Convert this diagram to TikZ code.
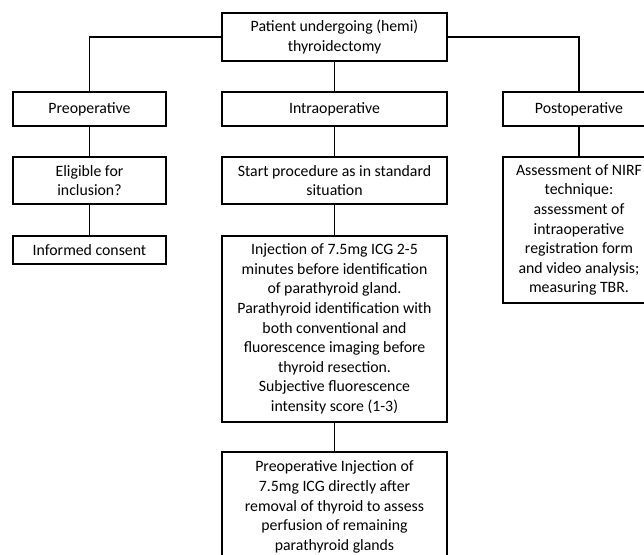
\documentclass[tikz,border=0pt]{standalone}
\usepackage{fontspec}
\setmainfont{Carlito}
\begin{document}
\begin{tikzpicture}[x=1pt,y=1pt,
  box/.style={draw=black, line width=1.3pt, inner sep=0pt, align=center,
    font=\fontsize{15.8}{19.6}\selectfont},
  conn/.style={draw=black, line width=1.1pt}]
\useasboundingbox (0,0) rectangle (644,-554);
\fill[white] (0,0) rectangle (644,-554);
\begin{scope}
\clip (0,0) rectangle (644,-554);
\node[box, minimum width=225, minimum height=48] (top) at (334.5,-37) {Patient undergoing (hemi)\\thyroidectomy};
\node[box, minimum width=153, minimum height=34] (pre) at (89.5,-109) {Preoperative};
\node[box, minimum width=225, minimum height=34] (intra) at (334.5,-109) {Intraoperative};
\node[box, minimum width=152, minimum height=34] (post) at (579,-109) {Postoperative};
\node[box, minimum width=153, minimum height=47] (elig) at (89.5,-180.5) {Eligible for\\inclusion?};
\node[box, minimum width=153, minimum height=28] (cons) at (89.5,-250) {Informed consent};
\node[box, minimum width=225, minimum height=47] (start) at (334.5,-180.5) {Start procedure as in standard\\situation};
\node[box, minimum width=225, minimum height=186] (inj) at (334.5,-329) {Injection of 7.5mg ICG 2-5\\minutes before identification\\of parathyroid gland.\\Parathyroid identification with\\both conventional and\\fluorescence imaging before\\thyroid resection.\\Subjective fluorescence\\intensity score (1-3)};
\node[box, minimum width=225, minimum height=110] (bot) at (334.5,-507) {Preoperative Injection of\\7.5mg ICG directly after\\removal of thyroid to assess\\perfusion of remaining\\parathyroid glands};
\node[box, minimum width=152, minimum height=146] (nirf) at (579,-230) {Assessment of NIRF\\technique:\\assessment of\\intraoperative\\registration form\\and video analysis;\\measuring TBR.};
\draw[conn] (top.west) -| (pre.north);
\draw[conn] (top.east) -| (post.north);
\draw[conn] (top.south) -- (intra.north);
\draw[conn] (pre.south) -- (elig.north);
\draw[conn] (elig.south) -- (cons.north);
\draw[conn] (intra.south) -- (start.north);
\draw[conn] (start.south) -- (inj.north);
\draw[conn] (inj.south) -- (bot.north);
\draw[conn] (post.south) -- (nirf.north);
\end{scope}
\end{tikzpicture}
\end{document}
